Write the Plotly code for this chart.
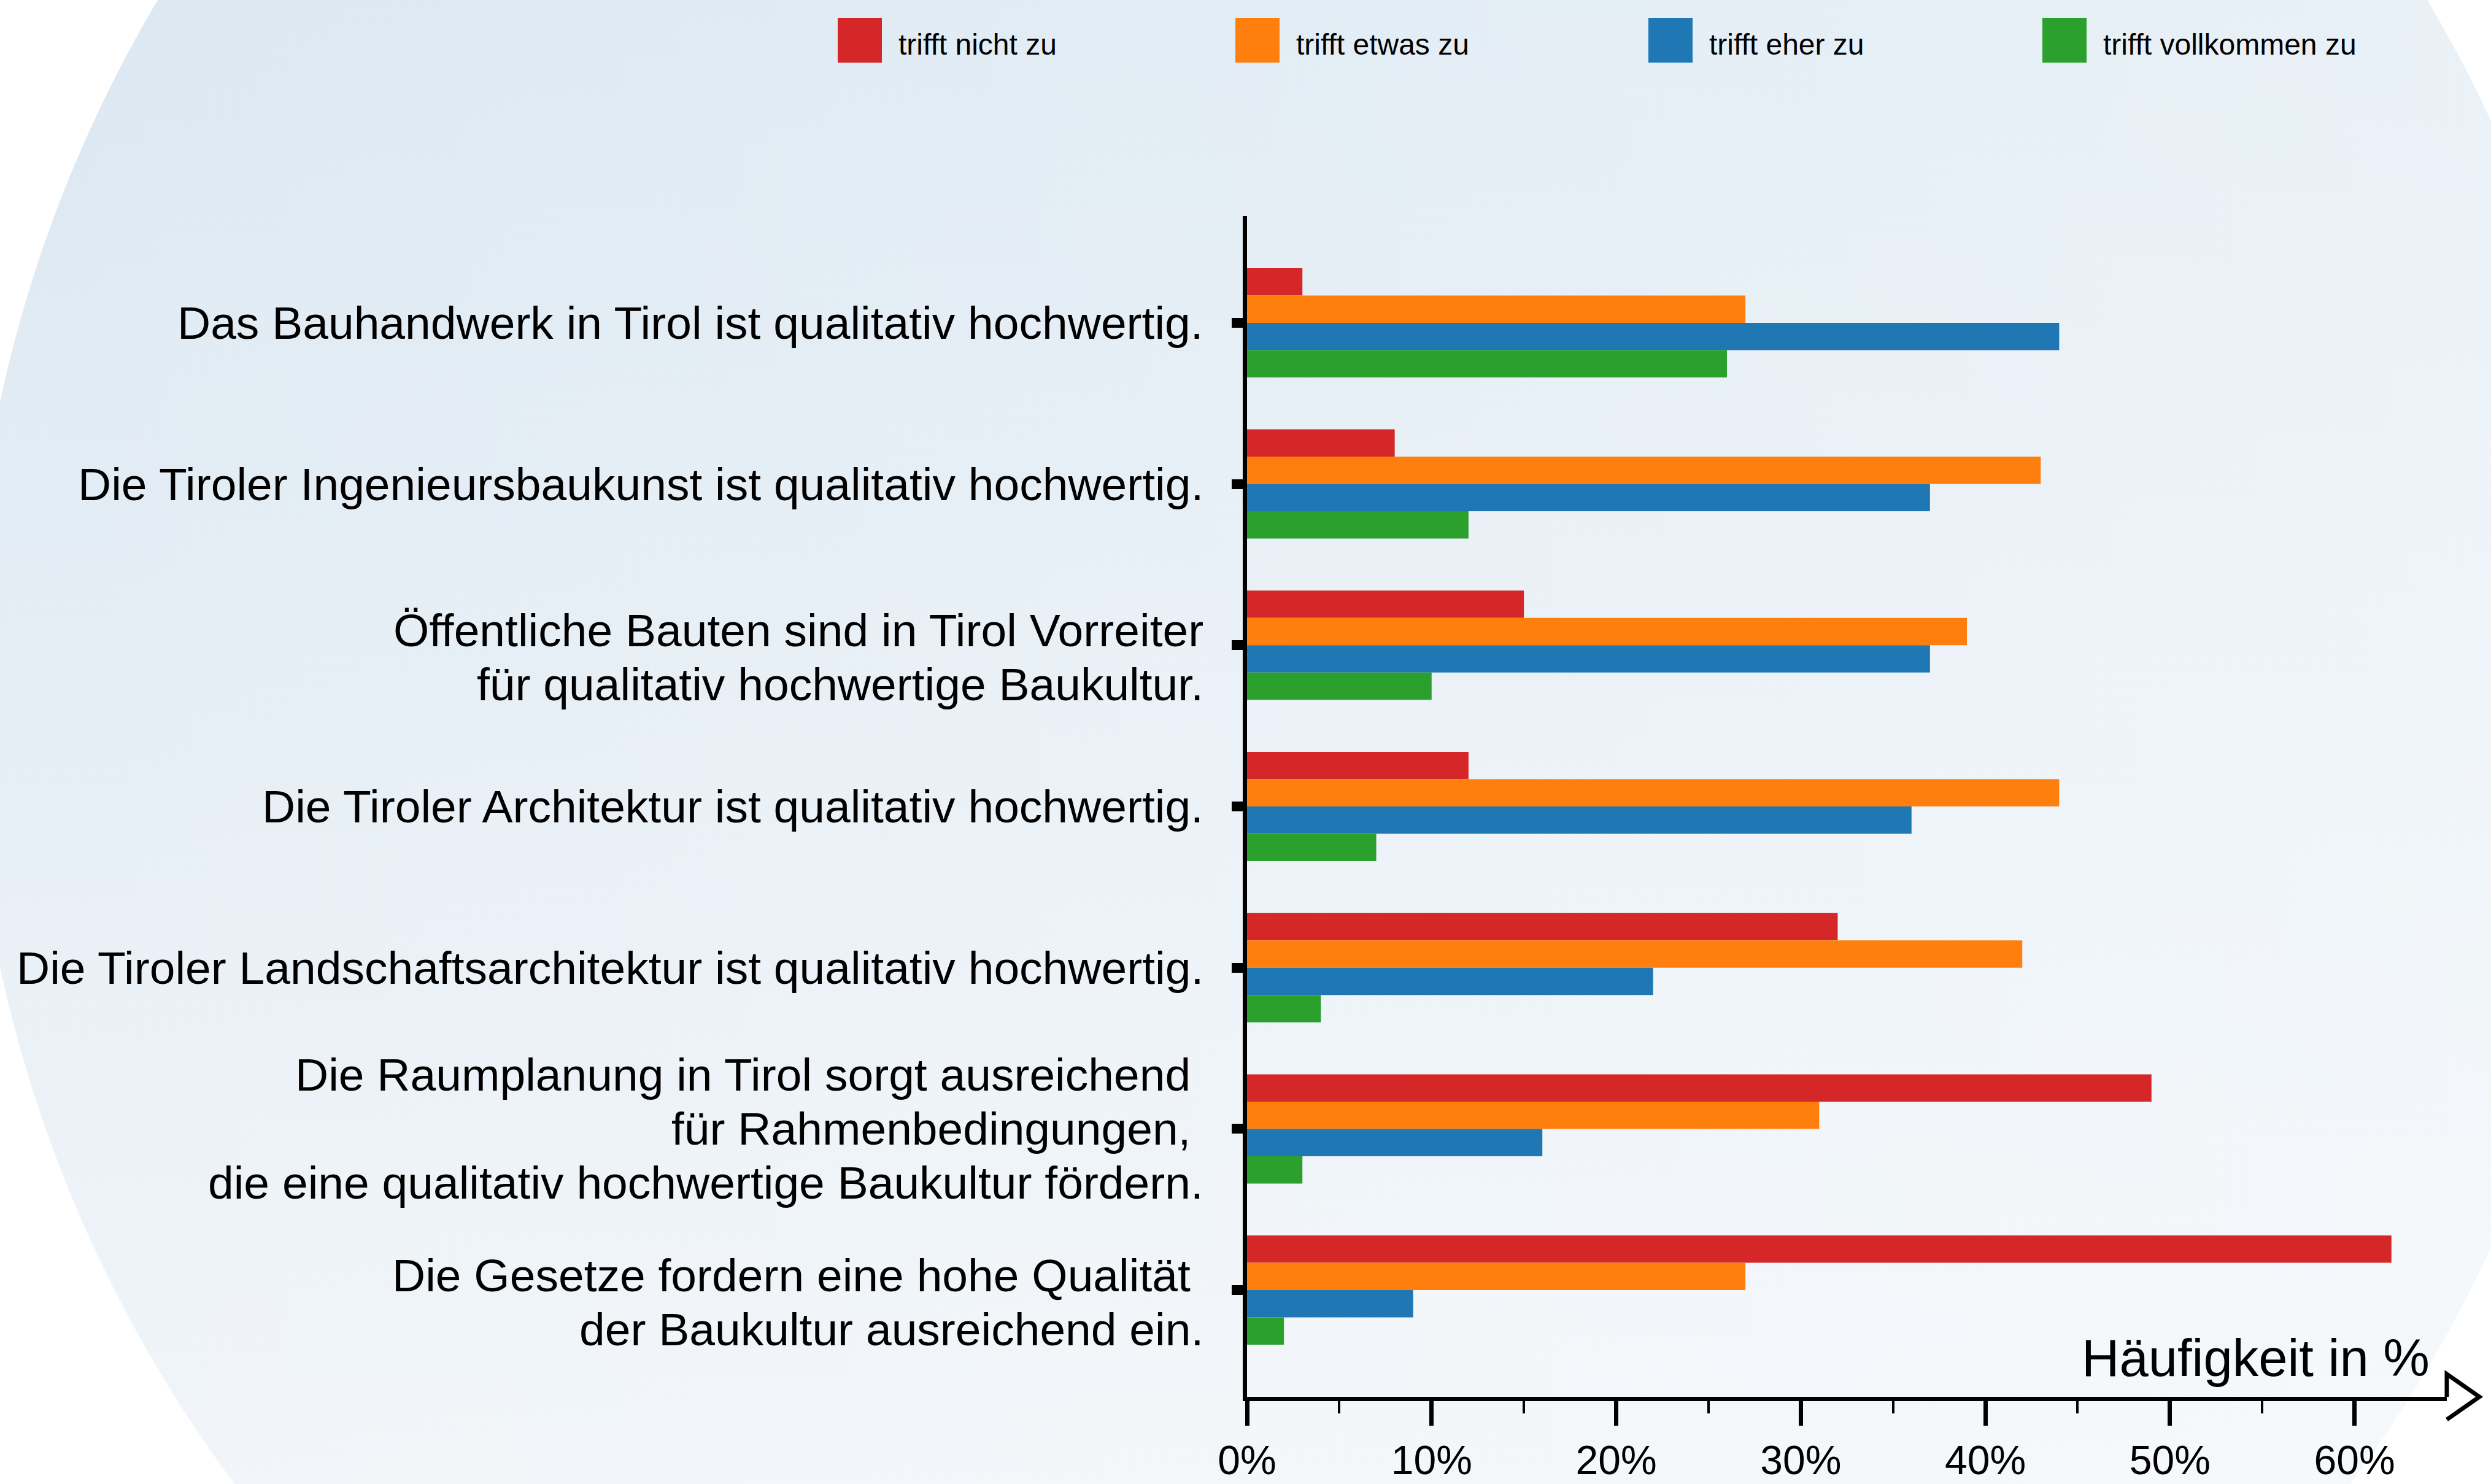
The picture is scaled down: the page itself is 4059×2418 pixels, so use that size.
import numpy as np
import plotly.graph_objects as go

# ---------------- data ----------------
categories = [
    "Das Bauhandwerk in Tirol ist qualitativ hochwertig.",
    "Die Tiroler Ingenieursbaukunst ist qualitativ hochwertig.",
    "Öffentliche Bauten sind in Tirol Vorreiter<br>für qualitativ hochwertige Baukultur.",
    "Die Tiroler Architektur ist qualitativ hochwertig.",
    "Die Tiroler Landschaftsarchitektur ist qualitativ hochwertig.",
    "Die Raumplanung in Tirol sorgt ausreichend\u00a0<br>für Rahmenbedingungen,\u00a0<br>die eine qualitativ hochwertige Baukultur fördern.",
    "Die Gesetze fordern eine hohe Qualität\u00a0<br>der Baukultur ausreichend ein.",
]
series_names = ["trifft nicht zu", "trifft etwas zu", "trifft eher zu", "trifft vollkommen zu"]
trifft_nicht_zu = [3, 8, 15, 12, 32, 49, 62]
trifft_etwas_zu = [27, 43, 39, 44, 42, 31, 27]
trifft_eher_zu = [44, 37, 37, 36, 22, 16, 9]
trifft_vollkommen_zu = [26, 12, 10, 7, 4, 3, 2]
x_tick_values = [0, 10, 20, 30, 40, 50, 60]
x_tick_labels = ["0%", "10%", "20%", "30%", "40%", "50%", "60%"]
x_minor_values = [5, 15, 25, 35, 45, 55]
axis_title = "Häufigkeit in %"

# ---------------- style ----------------
W, H = 4059, 2418
FONT = "Liberation Sans, Arial, Helvetica, sans-serif"
colors = ["#d62728", "#ff7f0e", "#1f77b4", "#2ca02c"]
series_values = [trifft_nicht_zu, trifft_etwas_zu, trifft_eher_zu, trifft_vollkommen_zu]

# plot area in pixels
X0_PX, X1_PX = 2032, 3987
Y_TOP_PX, Y_BOT_PX = 352, 2276
LABEL_FONT = 75
LINE_STEP = 88

fig = go.Figure()

# background disc (decoration) on a full-figure pixel subplot
t = np.linspace(0, 2 * np.pi, 500)
ex = 2106 + 2155 * np.cos(t)
ey = 1115 + 2171 * np.sin(t)
fig.add_trace(go.Scatter(
    x=ex, y=ey, mode="none", fill="toself", hoverinfo="skip", showlegend=False,
    fillgradient=dict(type="vertical", start=0, stop=H,
                      colorscale=[[0, "#dbe8f2"], [1, "#f1f5f9"]]),
    xaxis="x", yaxis="y"))
fig.add_trace(go.Scatter(
    x=ex, y=ey, mode="none", fill="toself", hoverinfo="skip", showlegend=False,
    fillgradient=dict(type="horizontal", start=0, stop=W,
                      colorscale=[[0, "rgba(255,255,255,0)"], [1, "rgba(255,255,255,0.4)"]]),
    xaxis="x", yaxis="y"))

for name, vals, col in zip(series_names, series_values, colors):
    fig.add_trace(go.Bar(
        y=categories, x=vals, name=name, orientation="h",
        marker=dict(color=col, line=dict(width=0)),
        xaxis="x2", yaxis="y2", showlegend=False))

shapes = []
annotations = []
# legend (manual, square swatches)
legend_swatch_x = [1365, 2013, 2686, 3328]
for name, col, sx in zip(series_names, colors, legend_swatch_x):
    shapes.append(dict(type="rect", xref="x", yref="y", x0=sx, x1=sx + 72, y0=29, y1=102,
                       fillcolor=col, line=dict(width=0), layer="above"))
    annotations.append(dict(xref="x", yref="y", x=sx + 97, y=101, xanchor="left", yanchor="bottom",
                            text=name, showarrow=False,
                            font=dict(family=FONT, size=48, color="black")))

# category labels, one annotation per line, anchored to the category positions
for i, cat in enumerate(categories):
    lines = cat.split("<br>")
    k = len(lines)
    extra = 20 if k == 2 else 0
    for j, line in enumerate(lines):
        off = (j - (k - 1) / 2) * LINE_STEP + extra
        annotations.append(dict(xref="x2", yref="y2", x=0, y=i, xanchor="right", yanchor="middle",
                                xshift=-69, yshift=-off, text=line, showarrow=False,
                                font=dict(family=FONT, size=LABEL_FONT, color="black")))

# arrow head at the end of x axis
shapes.append(dict(type="path", xref="x", yref="y",
                   path="M 3987,2276 L 3987,2239 L 4040,2276 L 3987,2313",
                   line=dict(color="black", width=7), layer="above"))

annotations.append(dict(xref="x", yref="y", x=3961, y=2262, xanchor="right", yanchor="bottom",
                        text=axis_title, showarrow=False,
                        font=dict(family=FONT, size=85, color="black")))

n = len(categories)
pad = 0.662
fig.update_layout(
    width=W, height=H, autosize=False,
    margin=dict(l=0, r=0, t=0, b=0, pad=0, autoexpand=False),
    paper_bgcolor="white", plot_bgcolor="rgba(0,0,0,0)",
    font=dict(family=FONT, color="black"),
    barmode="group", bargap=0.3224, bargroupgap=0,
    showlegend=False,
    xaxis=dict(domain=[0, 1], range=[0, W], visible=False, fixedrange=True, automargin=False),
    yaxis=dict(domain=[0, 1], range=[H, 0], visible=False, fixedrange=True, automargin=False),
    xaxis2=dict(domain=[X0_PX / W, X1_PX / W], anchor="y2", range=[0, 65], automargin=False,
                showline=True, linecolor="black", linewidth=7,
                ticks="outside", ticklen=40, tickwidth=7, tickcolor="black",
                tickmode="array", tickvals=x_tick_values, ticktext=x_tick_labels,
                tickfont=dict(family=FONT, size=66, color="black"),
                minor=dict(tickmode="array", tickvals=x_minor_values, ticks="outside",
                           ticklen=20, tickwidth=4, tickcolor="black", showgrid=False),
                showgrid=False, zeroline=False),
    yaxis2=dict(domain=[(H - Y_BOT_PX) / H, (H - Y_TOP_PX) / H], anchor="x2",
                type="category", categoryorder="array", categoryarray=categories,
                range=[n - 1 + pad, -pad], automargin=False,
                showline=True, linecolor="black", linewidth=7,
                ticks="outside", ticklen=18, tickwidth=16, tickcolor="black",
                showticklabels=False,
                showgrid=False, zeroline=False),
    shapes=shapes, annotations=annotations,
)

fig.write_html("out.html", config={"displayModeBar": False},
               post_script="document.body.style.margin='0';document.body.style.overflow='hidden';")
